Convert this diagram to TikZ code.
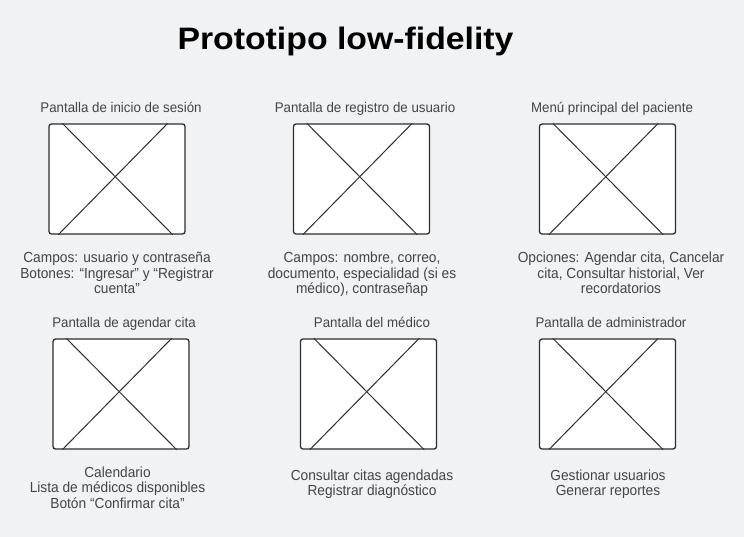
\documentclass[tikz,border=0pt]{standalone}
\usepackage{fontspec}
\setmainfont{Liberation Sans}
\newfontfamily\titlefont[FakeStretch=1.09]{Liberation Sans}
\newfontfamily\headfont[FakeStretch=0.95]{Liberation Sans}
\newfontfamily\notefont[FakeStretch=0.94]{Liberation Sans}
\usetikzlibrary{calc}
\definecolor{pagebg}{HTML}{F1F2F4}
\definecolor{frameline}{HTML}{2E2E2E}
\definecolor{captxt}{HTML}{444444}
\tikzset{
  screen/.style={draw=frameline, line width=1.3pt, fill=white, rounded corners=2.5pt,
    minimum width=136pt, minimum height=110pt, inner sep=0pt},
  cross/.style={draw=frameline, line width=1pt},
  heading/.style={text=captxt, font=\headfont\fontsize{14}{16}\selectfont, inner sep=0pt, anchor=base},
  % base of a multi-line block sits on its last line
  notes/.style={text=captxt, font=\notefont\fontsize{14.6}{15.4}\selectfont, align=center, inner sep=0pt, anchor=base},
}
% one wireframe screen: box plus its placeholder cross
\newcommand{\wirescreen}[3]{%
  \node[screen] (#1) at (#2,#3) {};
  \draw[cross] ($(#1.north west)+(14,0)$) -- ($(#1.south east)+(-13,0)$);
  \draw[cross] ($(#1.north east)+(-18,0)$) -- ($(#1.south west)+(10,0)$);
}
\begin{document}
\begin{tikzpicture}[x=1pt,y=-1pt]
\fill[pagebg] (0,0) rectangle (744,537);
\useasboundingbox (0,0) rectangle (744,537);

\node[font=\titlefont\bfseries\fontsize{31}{34}\selectfont, inner sep=0pt, anchor=base] (title) at (345.5,50) {Prototipo low-fidelity};

% first row
\node[heading] (h1) at (121,113) {Pantalla de inicio de sesión};
\node[heading] (h2) at (365,113) {Pantalla de registro de usuario};
\node[heading] (h3) at (612,113) {Menú principal del paciente};
\wirescreen{s1}{117}{179}
\wirescreen{s2}{361.5}{179}
\wirescreen{s3}{607.5}{179}
\node[notes] (n1) at (117,293.5) {Campos: usuario y contraseña\\Botones: “Ingresar” y “Registrar\\cuenta”};
\node[notes] (n2) at (362,293.5) {Campos: nombre, correo,\\documento, especialidad (si es\\médico), contraseñap};
\node[notes] (n3) at (621,293.5) {Opciones: Agendar cita, Cancelar\\cita, Consultar historial, Ver\\recordatorios};

% second row
\node[heading] (h4) at (124,327) {Pantalla de agendar cita};
\node[heading] (h5) at (372,327) {Pantalla del médico};
\node[heading] (h6) at (611,327) {Pantalla de administrador};
\wirescreen{s4}{121}{394}
\wirescreen{s5}{368.5}{394}
\wirescreen{s6}{607.5}{394}
\node[notes] (n4) at (117.5,508.3) {Calendario\\Lista de médicos disponibles\\Botón “Confirmar cita”};
\node[notes] (n5) at (372,495.5) {Consultar citas agendadas\\Registrar diagnóstico};
\node[notes] (n6) at (608,495.5) {Gestionar usuarios\\Generar reportes};
\end{tikzpicture}
\end{document}
